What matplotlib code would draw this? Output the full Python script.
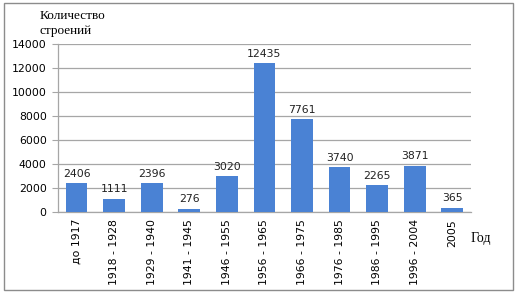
import matplotlib.pyplot as plt
from matplotlib.patches import Rectangle

# data
periods = ['до 1917', '1918 - 1928', '1929 - 1940', '1941 - 1945', '1946 - 1955',
           '1956 - 1965', '1966 - 1975', '1976 - 1985', '1986 - 1995', '1996 - 2004', '2005']
buildings = [2406, 1111, 2396, 276, 3020, 12435, 7761, 3740, 2265, 3871, 365]
y_ticks = [0, 2000, 4000, 6000, 8000, 10000, 12000, 14000]

bar_color = '#4a82d4'
grid_color = '#a6a6a6'

fig = plt.figure(figsize=(5.16, 2.94), dpi=100)
ax = fig.add_axes([0.112, 0.279, 0.801, 0.571])

x = range(len(periods))
bars = ax.bar(x, buildings, width=0.58, color=bar_color, zorder=3)

# value labels above each bar
for xi, v in zip(x, buildings):
    ax.text(xi, v + 350, str(v), ha='center', va='bottom', fontsize=7.8,
            color='#222222', zorder=4)

ax.set_ylim(0, 14000)
ax.set_xlim(-0.5, len(periods) - 0.5)
ax.set_yticks(y_ticks)
ax.set_yticklabels([str(t) for t in y_ticks], fontsize=7.8)
ax.set_xticks(list(x))
ax.set_xticklabels(periods, rotation=90, fontsize=7.8)
ax.tick_params(axis='x', length=0, pad=5)
ax.tick_params(axis='y', length=4, color=grid_color, pad=4)
ax.yaxis.grid(True, color=grid_color, linewidth=0.9, zorder=0)

for side in ['top', 'right']:
    ax.spines[side].set_visible(False)
for side in ['left', 'bottom']:
    ax.spines[side].set_color(grid_color)
    ax.spines[side].set_linewidth(0.9)

# axis titles in serif, like the original
fig.text(0.077, 0.92, 'Количество\nстроений', ha='left', va='center',
         fontsize=9.5, family='Liberation Serif', linespacing=1.4)
fig.text(0.932, 0.19, 'Год', ha='center', va='center', fontsize=10,
         family='Liberation Serif')

# outer frame around the chart
fig.patches.append(Rectangle((0.008, 0.014), 0.986, 0.976, transform=fig.transFigure,
                             fill=False, edgecolor='#8c8c8c', linewidth=1.0))

fig.savefig('out.png', dpi=100)
